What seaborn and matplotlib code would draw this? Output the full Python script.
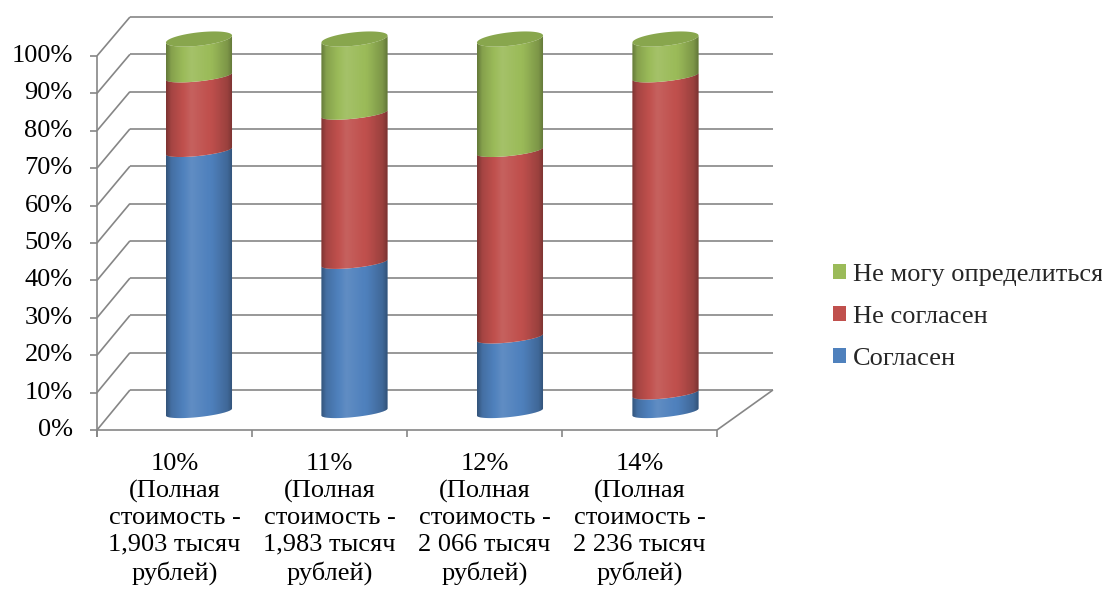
import numpy as np
import pandas as pd
import matplotlib
matplotlib.use("Agg")
import matplotlib.pyplot as plt
from matplotlib.patches import Polygon, Patch
import seaborn as sns

# ---- data -------------------------------------------------------------
categories = [
    "10%\n(Полная\nстоимость -\n1,903 тысяч\nрублей)",
    "11%\n(Полная\nстоимость -\n1,983 тысяч\nрублей)",
    "12%\n(Полная\nстоимость -\n2 066 тысяч\nрублей)",
    "14%\n(Полная\nстоимость -\n2 236 тысяч\nрублей)",
]
series_names = ["Согласен", "Не согласен", "Не могу определиться"]
agree = [70, 40, 20, 5]
disagree = [20, 40, 50, 85]
undecided = [10, 20, 30, 10]
y_ticks = [0, 10, 20, 30, 40, 50, 60, 70, 80, 90, 100]
colors = ["#4F81BD", "#C0504D", "#9BBB59"]
cap_colors = ["#41699A", "#9E403E", "#88A64D"]

# ---- styling ----------------------------------------------------------
sns.set_theme(style="white")
SERIF = "Liberation Serif"
plt.rcParams["font.family"] = [SERIF, "DejaVu Serif"]
FS = 19
GRID = "#868686"
GLW = 1.2

fig = plt.figure(figsize=(11.02, 6.0), dpi=100)
ax = fig.add_axes([0, 0, 1, 1])

# stacked totals in long form
values = [agree, disagree, undecided]
cum = np.cumsum(np.array(values, dtype=float), axis=0)
keys = [f"c{i}" for i in range(len(categories))]
rows = []
for j, name in enumerate(series_names):
    for i, k in enumerate(keys):
        rows.append({"cat": k, "series": name, "top": cum[j, i]})
df = pd.DataFrame(rows)

sns.barplot(data=df, x="cat", y="top", hue="series", order=keys,
            hue_order=series_names, palette=colors, dodge=False,
            width=0.425, errorbar=None, legend=False, saturation=1, ax=ax)

XLIM = (-1.2797, 5.8071)
YLIM = (-50.40, 110.46)

# pseudo-3D frame geometry (walls and floor)
FRONT_X0, FRONT_X1 = -0.656, 3.331
BACK_X0, BACK_X1 = -0.444, 3.691


def front_v(p):
    return -4.83 + p * 1.003


def back_v(p):
    return 5.9 + p * 1.0


txt_kw = dict(fontsize=FS, color="black", family=SERIF)
line_kw = dict(color=GRID, lw=GLW, zorder=1, solid_capstyle="butt")
for p in y_ticks:
    ax.plot([BACK_X0, BACK_X1], [back_v(p)] * 2, **line_kw)
    ax.plot([FRONT_X0, BACK_X0], [front_v(p), back_v(p)], **line_kw)
    ax.plot([FRONT_X0 - 0.045, FRONT_X0], [front_v(p)] * 2, **line_kw)
    ax.text(-0.812, front_v(p), f"{p}%", ha="right", va="center", **txt_kw)
ax.plot([FRONT_X0] * 2, [front_v(0) - 1.9, front_v(100)], **line_kw)
ax.plot([FRONT_X0, FRONT_X1], [front_v(0)] * 2, **line_kw)
ax.plot([FRONT_X1, BACK_X1], [front_v(0), back_v(0)], **line_kw)
edges = np.linspace(FRONT_X0, FRONT_X1, len(categories) + 1)
for xe in edges:
    ax.plot([xe, xe], [front_v(0), front_v(0) - 1.9], **line_kw)
for i, lab in enumerate(categories):
    xc = (edges[i] + edges[i + 1]) / 2
    ax.text(xc, -10.9, lab, ha="center", va="top", linespacing=1.27, **txt_kw)

# ---- cylinders ---------------------------------------------------------
B_SEG, B_CAP, SHEAR = 1.34, 1.8, 0.94


def arc(cx, a, cy, b, s, t0, t1, n=80):
    t = np.linspace(t0, t1, n)
    return np.column_stack([cx + a * np.cos(t), cy + b * np.sin(t) + s * np.cos(t)])


tpos = np.linspace(0, 1, 256)
shade = np.interp(tpos, [0, 0.08, 0.38, 0.7, 0.92, 1.0],
                  [-0.36, -0.14, 0.10, -0.02, -0.2, -0.38])
overlay = np.zeros((1, tpos.size, 4))
overlay[0, shade > 0, :3] = 1.0
overlay[0, :, 3] = np.abs(shade)

for j, cont in enumerate(ax.containers):
    for i, bar in enumerate(cont.patches):
        a = bar.get_width() / 2
        cx = bar.get_x() + a
        v1 = bar.get_height()
        v0 = cum[j - 1, i] if j > 0 else 0.0
        b_top = B_CAP if j == len(series_names) - 1 else B_SEG
        lower = arc(cx, a, v0, B_SEG, SHEAR, np.pi, 2 * np.pi)
        upper = arc(cx, a, v1, b_top, SHEAR, np.pi, 2 * np.pi)[::-1]
        side = Polygon(np.vstack([lower, upper]), closed=True,
                       transform=ax.transData)
        bar.set_y(v0 - 4)
        bar.set_height(v1 - v0 + 8)
        bar.set_linewidth(0)
        bar.set_zorder(3)
        bar.set_clip_path(side)
        im = ax.imshow(overlay, extent=(cx - a, cx + a, v0 - 4, v1 + 4),
                       aspect="auto", interpolation="bilinear", zorder=3.5)
        im.set_clip_path(side)
        if j == len(series_names) - 1:
            cap = Polygon(arc(cx, a, v1, b_top, SHEAR, 0, 2 * np.pi, 160),
                          closed=True, facecolor=cap_colors[j],
                          edgecolor="none", zorder=4)
            ax.add_patch(cap)

ax.set_xlim(*XLIM)
ax.set_ylim(*YLIM)
ax.set_axis_off()

handles = [Patch(facecolor=colors[k], edgecolor="none", label=series_names[k])
           for k in (2, 1, 0)]
fig.legend(handles=handles, loc="center left",
           bbox_to_anchor=(833 / 1102, 1 - 317 / 600), frameon=False,
           prop={"family": SERIF, "size": FS}, handlelength=0.48,
           handleheight=0.48, handletextpad=0.27, labelspacing=0.75,
           borderpad=0, borderaxespad=0)

fig.savefig("out.png", dpi=100, facecolor="white")
